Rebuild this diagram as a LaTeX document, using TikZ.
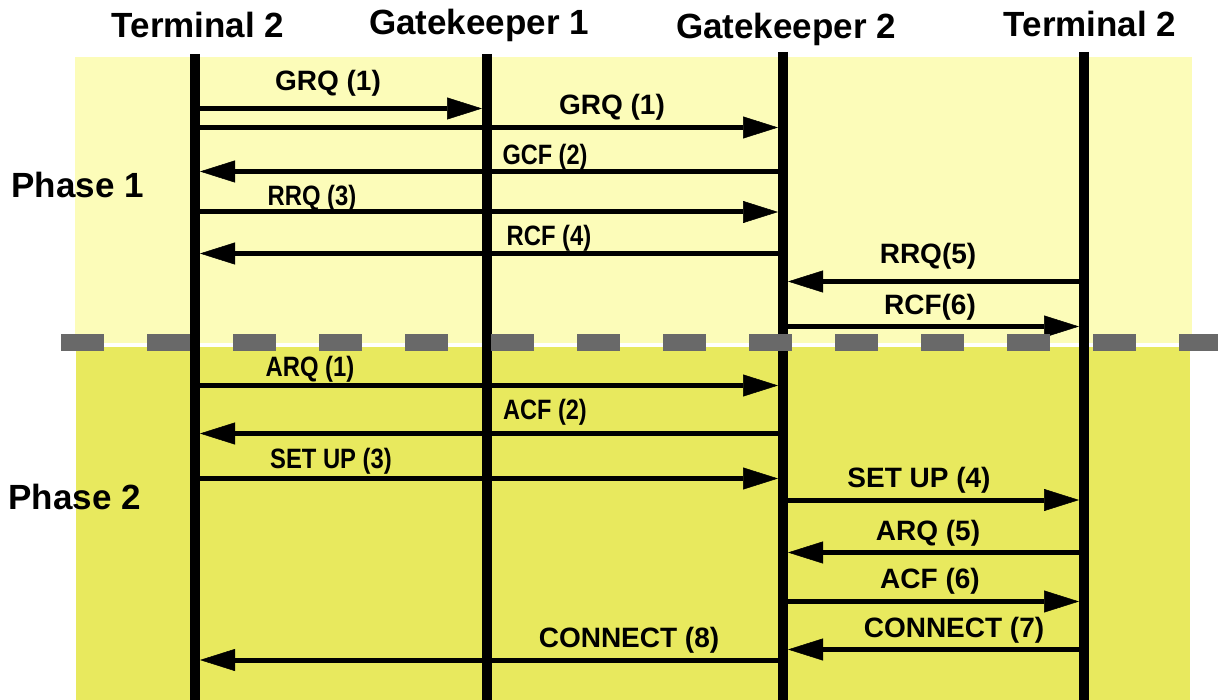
\documentclass[tikz,border=0pt]{standalone}
\usepackage{fontspec}
\setmainfont{Liberation Sans}
\usetikzlibrary{arrows.meta}
\definecolor{phaseone}{RGB}{252,252,185}
\definecolor{phasetwo}{RGB}{232,233,94}
\definecolor{sepgray}{RGB}{105,105,105}
\tikzset{
  lifeline/.style={line width=10pt},
  msg/.style={line width=5pt, -{Triangle[length=35pt,width=22pt,line width=0.5pt]},
              shorten <=5pt, shorten >=5pt},
  lbl/.style={font=\fontsize{28}{30}\selectfont\bfseries, anchor=base},
  head/.style={font=\fontsize{35}{40}\selectfont\bfseries, anchor=base},
}

\begin{document}
\begin{tikzpicture}[x=1pt,y=-1pt]
  \useasboundingbox (0,0) rectangle (1218,700);
  \fill[phaseone] (75,57) rectangle (1192,343);
  \fill[phasetwo] (76,347) rectangle (1190,700);
  % headers and lifelines
  \node[head] (h1) at (198,38) {Terminal 2};
  \node[head] (h2) at (479,35) {Gatekeeper 1};
  \node[head] (h3) at (786,39) {Gatekeeper 2};
  \node[head] (h4) at (1090,37) {Terminal 2};
  \foreach \n/\x/\y in {t1/195/54, gk1/487/54, gk2/783/52, t2/1084/52} {
    \coordinate (\n) at (\x,\y);
    \draw[lifeline] (\n) -- (\n |- 0,700);
  }
  \node[head, anchor=base west] (p1) at (8,198) {Phase 1};
  \node[head, anchor=base west] (p2) at (5,509) {Phase 2};
  % messages: from/to/y/label x/label y/squeeze/text
  \foreach \a/\b/\y/\lx/\ly/\sx/\txt [count=\i] in {
      t1/gk1/108.5/328/91/1/GRQ (1),
      t1/gk2/127.5/612/115/1/GRQ (1),
      gk2/t1/171.5/545/165/0.84/GCF (2),
      t1/gk2/212/312/206/0.85/RRQ (3),
      gk2/t1/253.5/549/246/0.85/RCF (4),
      t2/gk2/281.5/928/264/1/RRQ(5),
      gk2/t2/326.5/930/315/1/RCF(6),
      t1/gk2/385.5/310/377/0.85/ARQ (1),
      gk2/t1/433.5/545/420/0.84/ACF (2),
      t1/gk2/478.5/331/468/0.85/SET UP (3),
      gk2/t2/500/919/487/1/SET UP (4),
      t2/gk2/552.5/928/540/1/ARQ (5),
      gk2/t2/601.5/930/588/1/ACF (6),
      t2/gk2/649.5/954/637/1/CONNECT (7),
      gk2/t1/660/629/647/1/CONNECT (8)} {
    \draw[msg] (\a |- 0,\y) -- (\b |- 0,\y);
    \node[lbl, xscale=\sx] (m\i) at (\lx,\ly) {\txt};
  }
  % phase separator
  \draw[sepgray, line width=17pt, dash pattern=on 43pt off 43pt] (61,342.5) -- (1218,342.5);
\end{tikzpicture}
\end{document}
